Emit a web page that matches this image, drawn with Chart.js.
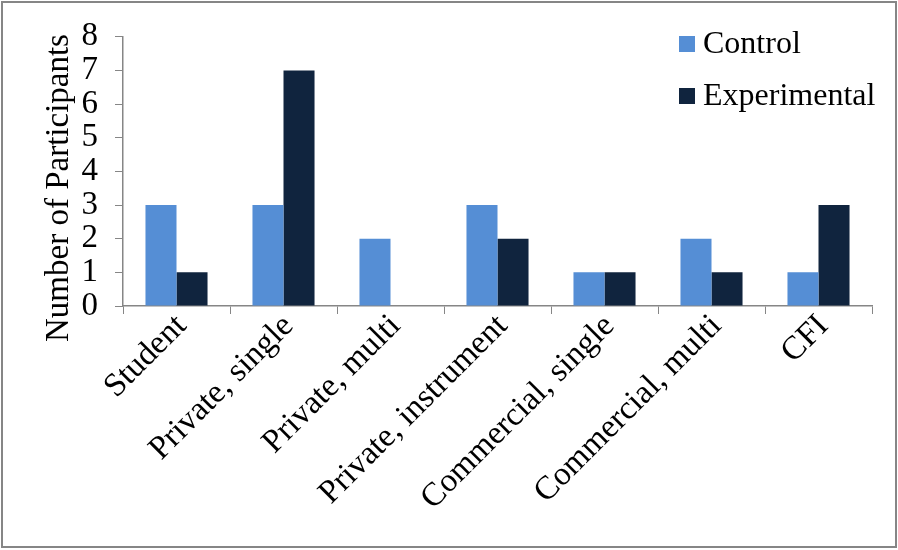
<!DOCTYPE html>
<html>
<head>
<meta charset="utf-8">
<script src="https://cdn.jsdelivr.net/npm/chart.js@4/dist/chart.umd.min.js"></script>
<style>
  html, body { margin: 0; padding: 0; background: #fff; }
  #wrap { width: 898px; height: 550px; }
</style>
</head>
<body>
<div id="wrap"><canvas id="grafico" width="898" height="550"></canvas></div>
<script>
const categorias = ['Student', 'Private, single', 'Private, multi', 'Private, instrument', 'Commercial, single', 'Commercial, multi', 'CFI'];
const controle = [3, 3, 2, 3, 1, 2, 1];
const experimental = [1, 7, 0, 2, 1, 1, 3];

const fonte = 'Liberation Serif, Times New Roman, serif';
const corEixo = '#868686';

// moldura cinza, título do eixo y e legenda vertical no canto superior direito
const extras = {
    id: 'extras',
    afterDraw(chart) {
        const ctx = chart.ctx;
        ctx.save();
        ctx.strokeStyle = corEixo;
        ctx.lineWidth = 2;
        ctx.strokeRect(2, 2, chart.width - 4, chart.height - 5);

        ctx.font = `33px ${fonte}`;
        ctx.fillStyle = '#000';
        ctx.textAlign = 'center';
        ctx.textBaseline = 'middle';
        ctx.save();
        ctx.translate(59, 188);
        ctx.rotate(-Math.PI / 2);
        ctx.fillText('Number of Participants', 0, 0);
        ctx.restore();

        ctx.font = `32px ${fonte}`;
        ctx.textAlign = 'left';
        chart.data.datasets.forEach((ds, i) => {
            const y = 44 + i * 52;
            ctx.fillStyle = ds.backgroundColor;
            ctx.fillRect(679, y - 8, 16, 16);
            ctx.fillStyle = '#000';
            ctx.fillText(ds.label, 703, y + 1);
        });
        ctx.restore();
    }
};

new Chart(document.getElementById('grafico'), {
    type: 'bar',
    data: {
        labels: categorias,
        datasets: [
            { label: 'Control', data: controle, backgroundColor: '#558ed5' },
            { label: 'Experimental', data: experimental, backgroundColor: '#10243e' }
        ]
    },
    options: {
        responsive: false,
        animation: false,
        layout: { padding: { left: 0, right: 26, top: 30, bottom: 0 } },
        datasets: { bar: { categoryPercentage: 0.58, barPercentage: 1 } },
        plugins: { legend: { display: false }, tooltip: { enabled: false } },
        scales: {
            x: {
                afterFit: s => { s.height = 244; },
                grid: { drawOnChartArea: false, color: corEixo, tickLength: 8, offset: true },
                border: { color: corEixo, width: 1.5 },
                ticks: {
                    color: '#000', font: { family: fonte, size: 33 },
                    minRotation: 45, maxRotation: 45, autoSkip: false, padding: -7, labelOffset: 5
                }
            },
            y: {
                min: 0, max: 8,
                afterFit: s => { s.width = 123; },
                grid: { drawOnChartArea: false, color: corEixo, tickLength: 8 },
                border: { color: corEixo, width: 1.5 },
                ticks: { stepSize: 1, autoSkip: false, color: '#000', font: { family: fonte, size: 33 }, padding: 17 }
            }
        }
    },
    plugins: [extras]
});
</script>
</body>
</html>
